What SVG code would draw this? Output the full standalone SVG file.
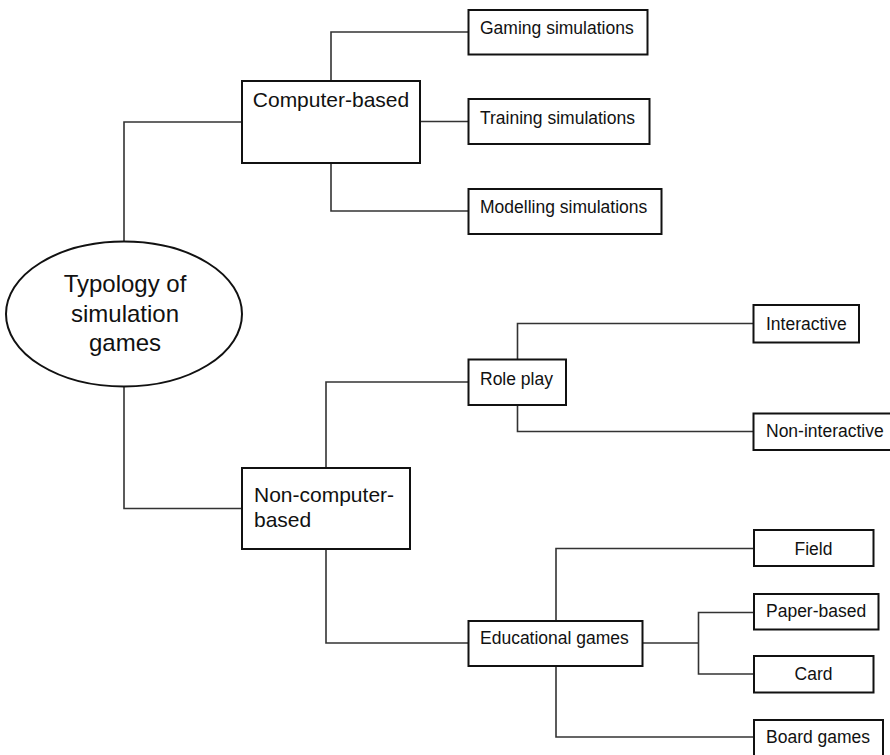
<svg xmlns="http://www.w3.org/2000/svg" width="890" height="755" viewBox="0 0 890 755">
<style>
.box{fill:#fff;stroke:#111;stroke-width:2}
.conn{fill:none;stroke:#333;stroke-width:1.6}
text{font-family:"Liberation Sans",Arial,sans-serif;fill:#111}
.s{font-size:17.5px}
.m{font-size:21px}
.l{font-size:24px}
</style>
<rect width="890" height="755" fill="#fff"/>
<g id="connectors">
<path class="conn" d="M124,242 V122 H242"/>
<path class="conn" d="M331,81 V32 H468"/>
<path class="conn" d="M420,121.5 H468"/>
<path class="conn" d="M331,163 V211 H468"/>
<path class="conn" d="M124,387 V508.5 H242"/>
<path class="conn" d="M326,468 V382 H468"/>
<path class="conn" d="M326,549 V643 H468"/>
<path class="conn" d="M517.5,359 V323.5 H753"/>
<path class="conn" d="M517.5,405 V431.5 H753"/>
<path class="conn" d="M556,621 V548.5 H754"/>
<path class="conn" d="M556,666 V737 H754"/>
<path class="conn" d="M643,643 H698.5"/>
<path class="conn" d="M754,612.5 H698.5 V674 H754"/>
</g>
<g id="root">
<ellipse class="box" cx="124" cy="314" rx="118" ry="72.5"/>
<text class="l" x="125" y="292" text-anchor="middle">Typology of</text>
<text class="l" x="125" y="321.5" text-anchor="middle">simulation</text>
<text class="l" x="125" y="350.5" text-anchor="middle">games</text>
</g>
<g id="computer-based">
<rect class="box" x="242" y="81" width="178" height="82"/>
<text class="m" x="331" y="107" text-anchor="middle">Computer-based</text>
</g>
<g id="gaming">
<rect class="box" x="468.5" y="10" width="179" height="44.5"/>
<text class="s" x="480" y="33.5">Gaming simulations</text>
</g>
<g id="training">
<rect class="box" x="468.5" y="99" width="181" height="45"/>
<text class="s" x="480" y="123.5">Training simulations</text>
</g>
<g id="modelling">
<rect class="box" x="468.5" y="189" width="193" height="45"/>
<text class="s" x="480" y="212.5">Modelling simulations</text>
</g>
<g id="non-computer-based">
<rect class="box" x="242" y="468" width="168" height="81"/>
<text class="m" x="254" y="501.5">Non-computer-</text>
<text class="m" x="254" y="526.5">based</text>
</g>
<g id="role-play">
<rect class="box" x="468.5" y="359.5" width="97.5" height="45.5"/>
<text class="s" x="480" y="385">Role play</text>
</g>
<g id="interactive">
<rect class="box" x="753.5" y="305" width="105.5" height="37.5"/>
<text class="s" x="766" y="330">Interactive</text>
</g>
<g id="non-interactive">
<rect class="box" x="753.5" y="413.5" width="145" height="36.5"/>
<text class="s" x="766" y="437">Non-interactive</text>
</g>
<g id="educational-games">
<rect class="box" x="468.5" y="621" width="174" height="45"/>
<text class="s" x="480" y="644">Educational games</text>
</g>
<g id="field">
<rect class="box" x="754" y="530" width="119.5" height="36"/>
<text class="s" x="813.5" y="554.5" text-anchor="middle">Field</text>
</g>
<g id="paper-based">
<rect class="box" x="754" y="594" width="124.5" height="35.5"/>
<text class="s" x="766" y="617">Paper-based</text>
</g>
<g id="card">
<rect class="box" x="754" y="656" width="119.5" height="36.5"/>
<text class="s" x="813.5" y="680" text-anchor="middle">Card</text>
</g>
<g id="board-games">
<rect class="box" x="754" y="720" width="129" height="45"/>
<text class="s" x="766" y="743">Board games</text>
</g>
</svg>
